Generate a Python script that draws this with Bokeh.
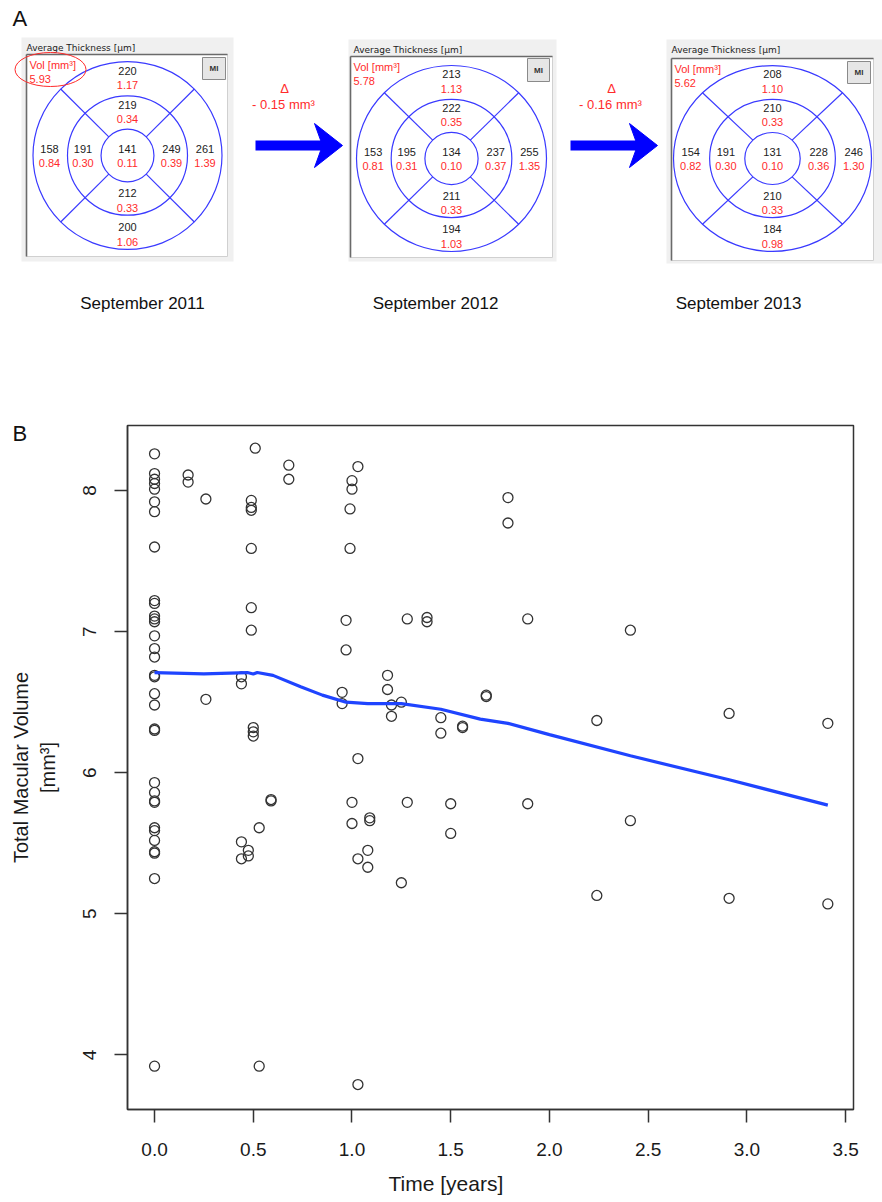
from bokeh.plotting import figure
from bokeh.layouts import column, row
from bokeh.models import Range1d, FixedTicker, Title
from bokeh.core.properties import value
from bokeh.embed import file_html
from bokeh.resources import INLINE

# ---------------- data ----------------
# Panel A: ETDRS grid values (order: center, top-outer, top-inner, bottom-inner, bottom-outer,
#          left-outer, left-inner, right-inner, right-outer)
thick_2011 = [141, 220, 219, 212, 200, 158, 191, 249, 261]
vol_2011 = ["0.11", "1.17", "0.34", "0.33", "1.06", "0.84", "0.30", "0.39", "1.39"]
thick_2012 = [134, 213, 222, 211, 194, 153, 195, 237, 255]
vol_2012 = ["0.10", "1.13", "0.35", "0.33", "1.03", "0.81", "0.31", "0.37", "1.35"]
thick_2013 = [131, 208, 210, 210, 184, 154, 191, 228, 246]
vol_2013 = ["0.10", "1.10", "0.33", "0.33", "0.98", "0.82", "0.30", "0.36", "1.30"]
total_vol = ["5.93", "5.78", "5.62"]
dates = ["September 2011", "September 2012", "September 2013"]
deltas = ["- 0.15 mm\u00b3", "- 0.16 mm\u00b3"]

# Panel B: scatter (time in years, total macular volume)
time_years = [0.0] * 33 + [
    0.17, 0.17, 0.26, 0.26, 0.44, 0.44, 0.44, 0.44, 0.475, 0.475,
    0.49, 0.49, 0.49, 0.49, 0.49, 0.49, 0.50, 0.50, 0.50, 0.51,
    0.53, 0.53, 0.59, 0.59, 0.68, 0.68, 0.95, 0.95, 0.97, 0.97,
    0.99, 0.99, 1.00, 1.00, 1.00, 1.00, 1.03, 1.03, 1.03, 1.03,
    1.08, 1.08, 1.09, 1.09, 1.18, 1.18, 1.20, 1.20, 1.25, 1.25,
    1.28, 1.28, 1.38, 1.38, 1.45, 1.45, 1.50, 1.50, 1.56, 1.56,
    1.68, 1.68, 1.79, 1.79, 1.89, 1.89, 2.24, 2.24, 2.41, 2.41,
    2.91, 2.91, 3.41, 3.41]
volume = [
    8.26, 8.12, 8.08, 8.05, 8.01, 7.92, 7.85, 7.60, 7.22, 7.20, 7.11,
    7.09, 7.07, 6.97, 6.88, 6.82, 6.69, 6.68, 6.56, 6.48, 6.31, 6.30,
    5.93, 5.86, 5.80, 5.79, 5.61, 5.59, 5.52, 5.44, 5.43, 5.25, 3.92,
    8.11, 8.06, 7.94, 6.52, 6.68, 6.63, 5.51, 5.39, 5.45, 5.41,
    7.93, 7.88, 7.86, 7.59, 7.17, 7.01, 6.32, 6.29, 6.26, 8.30,
    5.61, 3.92, 5.80, 5.81, 8.18, 8.08, 6.57, 6.49, 7.08, 6.87,
    7.87, 7.59, 8.07, 8.01, 5.79, 5.64, 8.17, 6.10, 5.39, 3.79,
    5.45, 5.33, 5.68, 5.66, 6.69, 6.59, 6.48, 6.40, 6.50, 5.22,
    7.09, 5.79, 7.10, 7.07, 6.39, 6.28, 5.78, 5.57, 6.32, 6.33,
    6.54, 6.55, 7.95, 7.77, 7.09, 5.78, 6.37, 5.13, 7.01, 5.66,
    6.42, 5.11, 6.35, 5.07]
# smoother (loess) curve
smooth_x = [0.0, 0.25, 0.47, 0.50, 0.52, 0.60, 0.74, 0.85, 0.97, 1.08, 1.20,
            1.25, 1.45, 1.65, 1.79, 2.0, 2.41, 2.91, 3.41]
smooth_y = [6.71, 6.70, 6.71, 6.70, 6.71, 6.69, 6.61, 6.55, 6.50, 6.49, 6.49,
            6.49, 6.45, 6.38, 6.35, 6.27, 6.12, 5.95, 5.77]
x_ticks = [0.0, 0.5, 1.0, 1.5, 2.0, 2.5, 3.0, 3.5]
y_ticks = [4, 5, 6, 7, 8]

FONT = value("Liberation Sans")
RED = "#ff2b2b"
BLUE_GRID = "#3a3aff"

# ---------------- Panel A ----------------
pa = figure(width=882, height=390, x_range=Range1d(0, 882), y_range=Range1d(390, 0),
            output_backend="svg", toolbar_location=None, x_axis_type=None, y_axis_type=None,
            min_border=0)
pa.grid.visible = False
pa.outline_line_color = None

# layout of the three screenshots (page pixels)
boxes = [
    dict(px=(21, 233), py=(37, 261), wx=(26, 227), wy=(54, 256), c=(127, 155), r=(94.5, 94),
         mi=(202, 225, 57, 79), thick=thick_2011, vol=vol_2011),
    dict(px=(348, 556), py=(39, 261), wx=(350, 552), wy=(56, 257), c=(451, 158), r=(95, 93),
         mi=(527, 549, 58, 81), thick=thick_2012, vol=vol_2012),
    dict(px=(666, 882), py=(39, 263), wx=(671, 873), wy=(58, 260), c=(772, 158), r=(99, 93),
         mi=(847, 870, 61, 83), thick=thick_2013, vol=vol_2013),
]
mid_f, in_f = 0.635, 0.28
dirs = [(0, 0), (0, -78), (0, -44), (0, 44.5), (0, 78.5), (-78, 0), (-44.5, 0), (44, 0), (77.5, 0)]

for i, b in enumerate(boxes):
    pa.quad(left=b["px"][0], right=b["px"][1], top=b["py"][0], bottom=b["py"][1],
            fill_color="#f0f0f0", line_color=None)
    pa.quad(left=b["wx"][0], right=b["wx"][1], top=b["wy"][0], bottom=b["wy"][1],
            fill_color="white", line_color="#d0d0d0", line_width=1)
    pa.segment(x0=[b["wx"][0], b["wx"][0]], y0=[b["wy"][0], b["wy"][0]],
               x1=[b["wx"][0], b["wx"][1]], y1=[b["wy"][1], b["wy"][0]],
               line_color="#6a6a6a", line_width=1.6)
    pa.text(x=[b["px"][0] + 5], y=[b["py"][0] + 10], text=["Average Thickness [\u00b5m]"],
            text_font=value("DejaVu Sans"), text_font_size="9px", text_color="#222222",
            text_align="left", text_baseline="middle")
    cx, cy = b["c"]
    rx, ry = b["r"]
    for f in (1.0, mid_f, in_f):
        pa.ellipse(x=[cx], y=[cy], width=[2 * rx * f], height=[2 * ry * f],
                   fill_color=None, line_color=BLUE_GRID, line_width=1.2)
    k = 0.7071
    sx = [1, -1, 1, -1]
    sy = [1, 1, -1, -1]
    pa.segment(x0=[cx + s * rx * in_f * k for s in sx], y0=[cy + t * ry * in_f * k for t in sy],
               x1=[cx + s * rx * k for s in sx], y1=[cy + t * ry * k for t in sy],
               line_color=BLUE_GRID, line_width=1.2)
    scale = rx / 94.5
    tx = [cx + d[0] * scale for d in dirs]
    ty = [cy + d[1] * ry / 94 for d in dirs]
    pa.text(x=tx, y=[v - 7 for v in ty], text=[str(t) for t in b["thick"]],
            text_font=FONT, text_font_size="11px", text_color="#222222",
            text_align="center", text_baseline="middle")
    pa.text(x=tx, y=[v + 7.5 for v in ty], text=b["vol"],
            text_font=FONT, text_font_size="11px", text_color=RED,
            text_align="center", text_baseline="middle")
    # Vol label
    pa.text(x=[b["wx"][0] + 3, b["wx"][0] + 3], y=[b["wy"][0] + 10, b["wy"][0] + 24],
            text=["Vol [mm\u00b3]", total_vol[i]], text_font=FONT, text_font_size="11px",
            text_color=RED, text_align="left", text_baseline="middle")
    # MI button
    m = b["mi"]
    pa.quad(left=m[0], right=m[1], top=m[2], bottom=m[3], fill_color="#e6e6e6",
            line_color="#8a8a8a", line_width=1)
    pa.text(x=[(m[0] + m[1]) / 2], y=[(m[2] + m[3]) / 2], text=["MI"], text_font=FONT,
            text_font_size="8px", text_font_style="bold", text_color="#333333",
            text_align="center", text_baseline="middle")
    # date caption
    pa.text(x=[[142, 435, 738][i]], y=[303], text=[dates[i]], text_font=FONT,
            text_font_size="17px", text_color="#111111", text_align="center",
            text_baseline="middle")

# red ellipse around the first Vol label
pa.ellipse(x=[50], y=[69], width=[71], height=[34], fill_color=None,
           line_color=RED, line_width=1)

# arrows and deltas
arrows = [(255, 342, 145, 284), (570, 657, 145, 611)]
for j, (xs, xt, ya, xd) in enumerate(arrows):
    pa.quad(left=xs, right=xt - 18, top=ya - 5, bottom=ya + 5, fill_color="#0000ff",
            line_color=None)
    pa.patch(x=[xt, xt - 28, xt - 20, xt - 28], y=[ya, ya - 22, ya, ya + 22],
             fill_color="#0000ff", line_color="#0000ff", line_width=1)
    pa.text(x=[xd, xd - 1], y=[88, 104], text=["\u0394", deltas[j]], text_font=FONT,
            text_font_size="13px", text_color=RED, text_align="center",
            text_baseline="middle")

pa.text(x=[12], y=[18], text=["A"], text_font=FONT, text_font_size="22px",
        text_color="#111111", text_align="left", text_baseline="middle")

# ---------------- Panel B ----------------
pb = figure(frame_width=726, frame_height=684, x_range=Range1d(-0.137, 3.54),
            y_range=Range1d(3.613, 8.461), output_backend="svg", toolbar_location=None,
            min_border_left=127, min_border_right=29, min_border_top=35, min_border_bottom=93)
pb.grid.visible = False
pb.outline_line_color = "#333333"
pb.outline_line_width = 1.5

pb.scatter(time_years, volume, marker="circle", size=10, fill_color=None,
           line_color="#333333", line_width=1.3)
pb.line(smooth_x, smooth_y, line_color="#1f44ff", line_width=3.2)

for ax in (pb.xaxis[0], pb.yaxis[0]):
    ax.axis_line_color = "#333333"
    ax.axis_line_width = 1.5
    ax.major_tick_line_color = "#333333"
    ax.major_tick_line_width = 1.5
    ax.major_tick_in = 0
    ax.major_tick_out = 13
    ax.minor_tick_line_color = None
    ax.major_label_text_font = "Liberation Sans"
    ax.major_label_text_font_size = "19px"
    ax.major_label_text_color = "#1a1a1a"

pb.xaxis.ticker = FixedTicker(ticks=x_ticks)
pb.xaxis.major_label_overrides = {t: f"{t:.1f}" for t in x_ticks}
pb.xaxis.major_label_standoff = 20
pb.yaxis.ticker = FixedTicker(ticks=y_ticks)
pb.yaxis.major_label_overrides = {t: str(t) for t in y_ticks}
pb.yaxis.major_label_orientation = "vertical"
pb.yaxis.major_label_standoff = 18
pb.yaxis.axis_label = "Total Macular Volume\n[mm\u00b3]"
pb.yaxis.axis_label_text_font = "Liberation Sans"
pb.yaxis.axis_label_text_font_size = "20px"
pb.yaxis.axis_label_text_font_style = "normal"
pb.yaxis.axis_label_text_color = "#1a1a1a"
pb.yaxis.axis_label_standoff = 22

pb.add_layout(Title(text="Time [years]", align="left", offset=261, standoff=23,
                    text_font="Liberation Sans", text_font_size="21px",
                    text_font_style="normal", text_color="#1a1a1a"), "below")
pb.add_layout(Title(text="B", align="left", offset=-115, standoff=-41,
                    text_font="Liberation Sans", text_font_size="22px",
                    text_font_style="normal", text_color="#111111"), "above")

layout = column(row(pa), row(pb), spacing=0)
open("out.html", "w").write(file_html(layout, INLINE))
